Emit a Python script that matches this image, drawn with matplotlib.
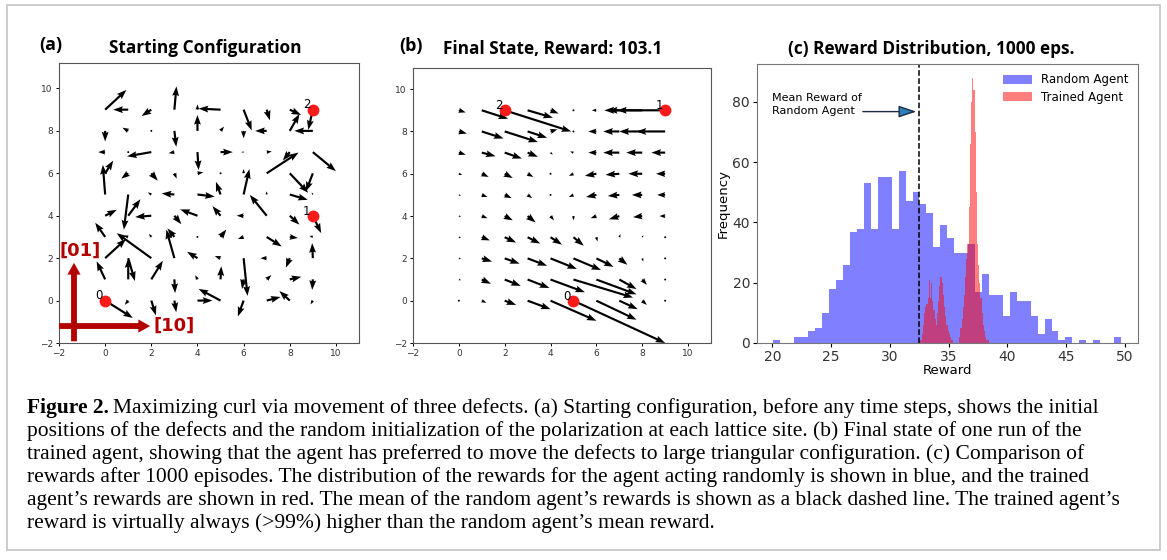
import numpy as np
import matplotlib
matplotlib.use("Agg")
import matplotlib.pyplot as plt
from matplotlib.patches import Rectangle

W, H = 1167, 560

# ------- lattice (rows listed top y=9 -> bottom y=0, columns x=0..9) -------
grid_x = np.arange(10)
grid_y = np.arange(9, -1, -1)

# (a) starting configuration: random polarization
u_start = [
    [0.92, -0.65, -0.42, 0.09, 0.00, -0.95, 0.35, 0.14, 0.49, -0.20],
    [0.00, -0.25, 0.02, 0.08, 0.00, 0.15, 0.00, -0.50, 0.42, -0.80],
    [-0.30, 0.05, -1.05, -0.25, 0.05, 0.53, -0.10, 0.22, -0.30, 1.00],
    [0.35, -0.30, 0.28, 0.10, 0.25, 0.05, 0.00, 1.38, 0.80, -0.30],
    [-0.10, -0.19, -0.15, -0.55, 0.75, -0.20, 0.25, 0.00, 0.78, -0.05],
    [0.50, 0.53, -0.70, 0.30, -0.75, -0.35, -0.30, -0.73, 0.42, 0.36],
    [-0.43, -0.20, -0.10, -0.30, 0.03, 0.25, -0.25, 0.65, 0.35, -0.15],
    [0.90, 0.29, -1.50, -0.35, -0.45, -0.25, 0.17, -0.27, -0.17, -0.03],
    [-0.37, 0.00, 0.50, 0.03, -0.10, 0.03, -0.07, 0.20, 0.50, -0.03],
    [1.20, -0.15, 0.20, 0.08, 0.65, -0.95, -0.25, 0.60, -0.45, -0.10],
]
v_start = [
    [0.93, 0.00, -0.30, 1.10, 0.25, 0.05, -0.98, -0.50, -0.25, -0.95],
    [-0.50, 0.15, 0.00, -0.75, 0.75, 0.20, -0.35, 0.00, 0.80, 0.00],
    [0.00, 0.00, -0.20, -0.05, -0.85, 0.00, 0.00, 0.03, -0.40, -0.90],
    [0.60, -0.25, -0.35, -0.25, 0.05, 0.00, 0.20, 0.98, -0.92, -0.85],
    [1.40, -1.66, 0.10, 0.05, -0.10, 0.60, 1.20, 0.15, -0.25, 0.10],
    [0.28, 0.78, -0.06, -0.40, 0.30, 0.45, 0.00, 0.98, -0.42, -0.82],
    [0.67, 0.05, 0.15, 0.40, 0.00, 0.35, -0.10, -0.45, -0.05, 0.05],
    [0.90, -1.08, 1.18, 1.35, 0.30, 0.10, -1.78, 0.00, -0.45, 0.71],
    [0.85, 1.00, 0.88, -0.65, 0.20, 0.62, -0.45, 0.20, 0.12, -0.50],
    [-0.82, -0.20, -0.70, -0.55, 0.00, 0.55, -0.75, 0.17, 0.45, -0.18],
]

# (b) final state of the trained agent
u_final = [
    [0.30, 1.15, 2.90, 1.10, 0.35, 0.05, -0.20, -0.65, -1.50, -2.10],
    [0.35, 0.95, 1.45, 0.85, 0.30, 0.05, -0.35, -0.70, -1.00, -1.25],
    [0.30, 0.60, 0.75, 0.45, 0.10, -0.15, -0.35, -0.70, -0.70, -0.60],
    [0.15, 0.30, 0.35, 0.25, 0.05, -0.20, -0.50, -0.60, -0.60, -0.40],
    [0.10, 0.25, 0.30, 0.20, 0.05, -0.20, -0.45, -0.50, -0.45, -0.35],
    [0.10, 0.25, 0.35, 0.35, 0.15, 0.00, -0.25, -0.45, -0.40, -0.25],
    [0.10, 0.35, 0.50, 0.55, 0.50, 0.45, 0.05, 0.05, 0.05, 0.05],
    [0.10, 0.45, 0.65, 0.85, 1.15, 1.20, 0.75, 0.35, 0.05, 0.02],
    [0.10, 0.40, 0.70, 0.95, 1.50, 2.60, 1.75, 0.75, 0.20, 0.02],
    [0.05, 0.20, 0.50, 1.00, 2.00, 4.00, 1.75, 0.80, 0.20, 0.02],
]
v_final = [
    [-0.10, -0.40, -1.00, -0.35, -0.15, 0.00, 0.00, 0.00, 0.00, 0.00],
    [-0.10, -0.33, -0.50, -0.30, 0.10, 0.00, 0.00, 0.00, 0.00, 0.00],
    [-0.10, -0.17, -0.28, -0.20, -0.10, 0.05, 0.00, 0.00, 0.00, 0.00],
    [-0.05, -0.15, -0.20, -0.15, -0.03, -0.10, -0.10, -0.05, 0.00, 0.00],
    [-0.03, -0.10, -0.15, -0.15, -0.05, -0.10, -0.10, -0.05, 0.00, 0.00],
    [-0.03, -0.10, -0.20, -0.30, -0.20, -0.20, -0.10, -0.15, -0.05, 0.00],
    [-0.03, -0.15, -0.25, -0.30, -0.35, -0.40, -0.20, 0.15, 0.10, 0.02],
    [-0.03, -0.15, -0.25, -0.35, -0.50, -0.55, -0.40, -0.30, -0.15, 0.00],
    [-0.03, -0.20, -0.30, -0.40, -0.60, -0.85, -0.70, -0.45, -0.25, 0.00],
    [-0.02, -0.10, -0.20, -0.40, -0.95, -2.00, -0.90, -0.40, -0.20, 0.00],
]

defect_labels = ["0", "1", "2"]
start_def_x = [0, 9, 9]
start_def_y = [0, 4, 9]
final_def_x = [5, 9, 2]
final_def_y = [0, 9, 9]

# (c) reward histograms, 1000 episodes
random_edges = np.linspace(20.1, 49.66, 51)
random_counts = [1, 0, 0, 2, 2, 4, 5, 10, 18, 21,
                 26, 37, 38, 53, 38, 55, 55, 38, 57, 47,
                 50, 46, 43, 32, 39, 35, 30, 30, 33, 17,
                 23, 16, 16, 9, 17, 14, 14, 9, 3, 8,
                 4, 1, 2, 0, 1, 0, 1, 0, 0, 2]
trained_edges = np.linspace(32.6, 38.4, 59)
trained_counts = [1, 3, 6, 10, 12, 13, 15, 21, 15, 20, 14, 11, 8, 6,
                  10, 14, 19, 22, 20, 16, 12, 9, 6, 4, 3, 2, 1, 1,
                  0, 0, 0, 0, 0,
                  2, 5, 8, 12, 16, 22, 28, 33, 45, 66, 80, 88, 84, 70,
                  50, 33, 26, 20, 15, 10, 6, 4, 2, 1, 1]
random_mean = 32.45

caption = [
    "Maximizing curl via movement of three defects. (a) Starting configuration, before any time steps, shows the initial",
    "positions of the defects and the random initialization of the polarization at each lattice site. (b) Final state of one run of the",
    "trained agent, showing that the agent has preferred to move the defects to large triangular configuration. (c) Comparison of",
    "rewards after 1000 episodes. The distribution of the rewards for the agent acting randomly is shown in blue, and the trained",
    "agent\u2019s rewards are shown in red. The mean of the random agent\u2019s rewards is shown as a black dashed line. The trained agent\u2019s",
    "reward is virtually always (>99%) higher than the random agent\u2019s mean reward.",
]

TITLE_FONT = "Open Sans"
SERIF = "Liberation Serif"
DARKRED = "#b30000"

fig = plt.figure(figsize=(W / 100, H / 100), dpi=100)


def px_axes(l, t, r, b):
    # axes placed by picture pixels (top-left origin)
    return fig.add_axes([l / W, 1 - b / H, (r - l) / W, (b - t) / H])


def style_small(ax):
    ax.set_xticks(range(-2, 11, 2))
    ax.set_yticks(range(-2, 11, 2))
    ax.tick_params(labelsize=6.5, labelcolor="#333333", length=2.5,
                   width=0.7, pad=2)
    for s in ax.spines.values():
        s.set_color("#555555")
        s.set_linewidth(0.8)


def quiver_panel(ax, U, V, dx, dy):
    X, Y = np.meshgrid(grid_x, grid_y)
    ax.quiver(X, Y, np.array(U), np.array(V), angles="xy",
              scale_units="xy", scale=1, width=0.0072, headwidth=3.2,
              headlength=4.5, headaxislength=4.0, color="black", zorder=2)
    ax.plot(dx, dy, "o", color="#ff1a1a", ms=7.5, zorder=3)
    for lab, x, y in zip(defect_labels, dx, dy):
        ax.text(x - 0.27, y + 0.22, lab, fontsize=8.5, ha="center",
                va="center", zorder=4)


def title(x, y, s, size=12.4):
    fig.text(x / W, 1 - y / H, s, fontsize=size, fontweight="bold",
             family=TITLE_FONT, ha="center", va="center")


# ---------------- (a) ----------------
axa = px_axes(59, 63, 359, 343)
quiver_panel(axa, u_start, v_start, start_def_x, start_def_y)
axa.set_xlim(-2, 11)
axa.set_ylim(-2, 11.2)
style_small(axa)
arrow_kw = dict(arrowstyle="simple,head_width=0.95,head_length=0.85,"
                           "tail_width=0.42",
                mutation_scale=10, color=DARKRED, lw=0,
                shrinkA=0, shrinkB=0)
axa.annotate("", xy=(1.95, -1.2), xytext=(-2.0, -1.2),
             arrowprops=arrow_kw, annotation_clip=False, zorder=5)
axa.annotate("", xy=(-1.35, 1.78), xytext=(-1.35, -1.92),
             arrowprops=arrow_kw, annotation_clip=False, zorder=5)
axa.text(3.0, -1.2, "[10]", color=DARKRED, fontsize=13, fontweight="bold",
         ha="center", va="center", zorder=5)
axa.text(-1.1, 2.33, "[01]", color=DARKRED, fontsize=13, fontweight="bold",
         ha="center", va="center", zorder=5)
title(51, 45, "(a)", 13)
title(205, 48, "Starting Configuration")

# ---------------- (b) ----------------
axb = px_axes(413, 68, 711, 343)
quiver_panel(axb, u_final, v_final, final_def_x, final_def_y)
axb.set_xlim(-2, 11)
axb.set_ylim(-2, 11)
style_small(axb)
title(411, 46, "(b)", 13)
title(553, 49, "Final State, Reward: 103.1")

# ---------------- (c) ----------------
axc = px_axes(757, 64, 1138, 343)
axc.hist(random_edges[:-1], bins=random_edges, weights=random_counts,
         color="blue", alpha=0.5, label="Random Agent")
axc.hist(trained_edges[:-1], bins=trained_edges, weights=trained_counts,
         color="red", alpha=0.5, label="Trained Agent")
axc.axvline(random_mean, color="black", ls="--", lw=1.1)
axc.text(20.0, 79.2, "Mean Reward of\nRandom Agent", fontsize=8,
         ha="left", va="center", linespacing=1.35)
axc.annotate("", xy=(32.25, 76.8), xytext=(27.7, 76.8),
             arrowprops=dict(arrowstyle="-|>,head_length=0.9,head_width=0.3",
                             mutation_scale=12, fc="#2c7fb8", ec="#1c2a44",
                             lw=1.0, shrinkA=0, shrinkB=0))
axc.set_xlim(18.7, 51.1)
axc.set_ylim(0, 92.6)
axc.set_xticks(range(20, 51, 5))
axc.set_yticks(range(0, 81, 20))
axc.tick_params(labelsize=10, labelcolor="#333333", length=3, width=0.8,
                pad=2)
for s in axc.spines.values():
    s.set_color("#777777")
    s.set_linewidth(0.8)
axc.set_xlabel("Reward", fontsize=9.5, labelpad=0)
axc.set_ylabel("Frequency", fontsize=9.5, labelpad=2)
axc.legend(loc="upper right", fontsize=8.5, frameon=False,
           handlelength=2.4, handleheight=0.8, borderaxespad=0.4,
           labelspacing=0.35)
title(931, 49, "(c) Reward Distribution, 1000 eps.")

# ---------------- caption ----------------
cap_size = 15.5
y0 = 408
renderer = fig.canvas.get_renderer()
lead = fig.text(27 / W, 1 - y0 / H, "Figure 2.", family=SERIF,
                fontsize=cap_size, fontweight="bold", va="center")
lead_w = lead.get_window_extent(renderer).width
for i, line in enumerate(caption):
    x = 27 + (lead_w + 4 if i == 0 else 0)
    fig.text(x / W, 1 - (y0 + 23 * i) / H, line, family=SERIF,
             fontsize=cap_size, va="center")

# outer frame
fig.add_artist(Rectangle((7 / W, 1 - 550 / H), (1160 - 7) / W, (550 - 5) / H,
                         transform=fig.transFigure, fill=False,
                         ec="#c4c4c4", lw=1.2))

fig.savefig("out.png", dpi=100)
